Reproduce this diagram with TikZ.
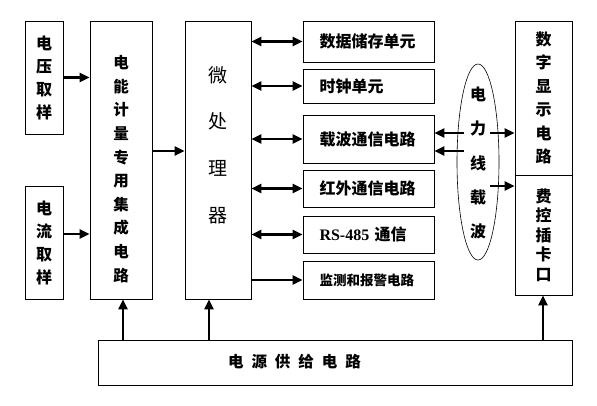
\documentclass[tikz,border=0pt]{standalone}
\usepackage{fontspec}
\setmainfont{Liberation Serif}
\newfontfamily\cjk{Noto Sans CJK SC}
\usetikzlibrary{arrows.meta,shapes.geometric}

\begin{document}
\begin{tikzpicture}[x=1pt,y=-1pt,
  box/.style={draw,line width=0.8pt,inner sep=0pt},
  rbox/.style={box,minimum width=131pt,text width=98pt,align=left,font=\cjk\bfseries\fontsize{16}{18}\selectfont},
  arr/.style={line width=2.2pt,-{Triangle[length=10pt,width=9pt]}},
  darr/.style={line width=2.2pt,{Triangle[length=10pt,width=9pt]}-{Triangle[length=10pt,width=9pt]}}]
\useasboundingbox (0,0) rectangle (597,405);
\node[box,minimum width=38pt,minimum height=113pt,align=center,font=\cjk\bfseries\fontsize{16}{23}\selectfont] (vsamp) at (44,77.5) {电\\压\\取\\样};
\node[box,minimum width=38pt,minimum height=113pt,align=center,font=\cjk\bfseries\fontsize{16}{23}\selectfont] (isamp) at (44,242.5) {电\\流\\取\\样};
\node[box,minimum width=62pt,minimum height=278pt] (meter) at (121,160) {};
\node[align=center,font=\cjk\bfseries\fontsize{15.5}{23.6}\selectfont] (meterlbl) at (121,169) {电\\能\\计\\量\\专\\用\\集\\成\\电\\路};
\node[box,minimum width=66pt,minimum height=278pt] (mcu) at (218,160) {};
\node[align=center,font=\cjk\fontsize{19}{46.7}\selectfont] (mculbl) at (218,145) {微\\处\\理\\器};
\node[rbox,minimum height=41pt] (store) at (368.5,41.5) {数据储存单元};
\node[rbox,minimum height=34pt] (clock) at (368.5,86) {时钟单元};
\node[rbox,minimum height=48pt] (carrier) at (368.5,139) {载波通信电路};
\node[rbox,minimum height=37pt] (infra) at (368.5,188.5) {红外通信电路};
\node[rbox,minimum height=37pt] (rs) at (368.5,234.5) {{\rmfamily RS-485}~通信};
\node[rbox,minimum height=38pt,font=\cjk\bfseries\fontsize{13.5}{16}\selectfont] (alarm) at (368.5,280) {监测和报警电路};
\node[draw,ellipse,line width=0.6pt,minimum width=42pt,minimum height=196pt,inner sep=0pt] (plc) at (478,162) {};
\node[align=center,font=\cjk\bfseries\fontsize{16}{34.3}\selectfont] (plclbl) at (478,163) {电\\力\\线\\载\\波};
\node[box,minimum width=57pt,minimum height=154pt,align=center,font=\cjk\bfseries\fontsize{16}{23.5}\selectfont] (disp) at (543.5,98) {数\\字\\显\\示\\电\\路};
\node[box,minimum width=57pt,minimum height=120pt,align=center,font=\cjk\bfseries\fontsize{16}{19.5}\selectfont] (card) at (543.5,235) {费\\控\\插\\卡\\口};
\node[box,minimum width=474pt,minimum height=45pt] (power) at (335,362.5) {};
\node[font=\cjk\bfseries\fontsize{15.5}{18}\selectfont] (powerlbl) at (294.5,362) {电\hspace{8pt}源\hspace{8pt}供\hspace{8pt}给\hspace{8pt}电\hspace{8pt}路};
\draw[arr] (vsamp.east) -- (vsamp.east -| meter.west);
\draw[arr] ([yshift=8.5pt]isamp.east) -- ([yshift=8.5pt]isamp.east -| meter.west);
\draw[arr] ([yshift=9pt]meter.east) -- ([yshift=9pt]meter.east -| mcu.west);
\draw[darr] (mcu.east |- store) -- (store.west);
\draw[darr] (mcu.east |- clock) -- (clock.west);
\draw[darr] (mcu.east |- carrier) -- (carrier.west);
\draw[darr] (mcu.east |- infra) -- (infra.west);
\draw[darr] (mcu.east |- rs) -- (rs.west);
\draw[arr] (mcu.east |- alarm) -- (alarm.west);
\coordinate (p1) at (464,133);
\coordinate (p2) at (464,151);
\coordinate (p3) at (490,133);
\coordinate (p4) at (490,186);
\draw[arr] (p1) -- (p1 -| carrier.east);
\draw[arr] (p2) -- (p2 -| carrier.east);
\draw[arr] (p3) -- (p3 -| disp.west);
\draw[arr] (p4) -- (p4 -| card.west);
\coordinate (q1) at (123,340);
\coordinate (q2) at (209,340);
\coordinate (q3) at (543,340);
\draw[arr] (q1) -- (q1 |- meter.south);
\draw[arr] (q2) -- (q2 |- mcu.south);
\draw[arr] (q3) -- (q3 |- card.south);
\end{tikzpicture}
\end{document}
